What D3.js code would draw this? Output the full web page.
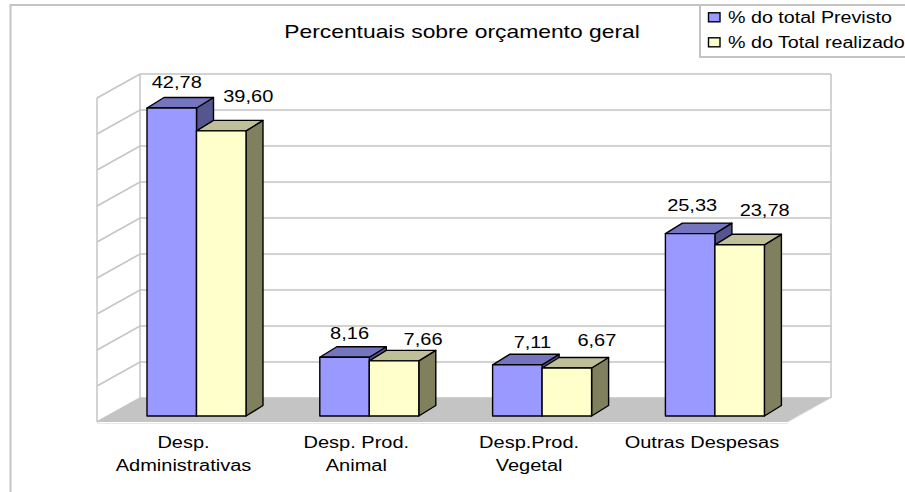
<!DOCTYPE html>
<html><head><meta charset="utf-8">
<script src="https://cdn.jsdelivr.net/npm/d3@7"></script>
<style>html,body{margin:0;background:#fff;overflow:hidden}svg{display:block}text{font-family:"Liberation Sans",Arial,sans-serif;fill:#000}</style>
</head><body><svg id="c" width="905" height="492"></svg>
<script>
const categories = [["Desp.","Administrativas"],["Desp. Prod.","Animal"],["Desp.Prod.","Vegetal"],["Outras Despesas"]];
const seriesNames = ["% do total Previsto","% do Total realizado"];
const previsto = [42.78,8.16,7.11,25.33];
const realizado = [39.60,7.66,6.67,23.78];
const gridTicks = d3.range(0,50,5);
const colors = [{f:"#9999ff",t:"#7474bf",s:"#55558f"},{f:"#ffffcc",t:"#bfbf99",s:"#80805f"}];

const svg = d3.select("#c");
const W = {x0:140,x1:831,yBottom:398,dx:43,dy:24};
const y = d3.scaleLinear().domain([0,45]).range([W.yBottom,74]);
const x = d3.scaleBand().domain(d3.range(4)).range([147,147+4*172.8]);
const grey="#c4c4c4";

// stretched text helper (the original's glyphs are horizontally wide)
function stext(parent,str,px,py,size,sx,anchor){
  return parent.append("text").attr("transform",`translate(${px},${py}) scale(${sx},1)`)
    .attr("font-size",size).attr("text-anchor",anchor||"middle").text(str);
}

// frame
svg.append("path").attr("d","M10.5,492V5H905").attr("fill","none").attr("stroke",grey).attr("stroke-width",2);
// floor
svg.append("polygon").attr("fill",grey).attr("points",[[W.x0,W.yBottom],[W.x1,W.yBottom],[W.x1-W.dx,W.yBottom+W.dy],[W.x0-W.dx,W.yBottom+W.dy]].join(" "));
// grid
const g = svg.append("g").attr("fill","none").attr("stroke",grey).attr("stroke-width",1.5);
g.selectAll("path.g").data(gridTicks).join("path").attr("class","g")
 .attr("d",t=>`M${W.x0-W.dx},${y(t)+W.dy}L${W.x0},${y(t)}H${W.x1}`);
g.append("path").attr("d",`M${W.x0-W.dx},${W.yBottom+W.dy}V${y(45)+W.dy}`);
g.append("path").attr("d",`M${W.x0},${y(0)}V${y(45)}`);
g.append("path").attr("d",`M${W.x1},${y(0)}V${y(45)}`);
svg.append("path").attr("d",`M${W.x0-W.dx},${W.yBottom+W.dy+1.5}H${W.x1-W.dx}`).attr("stroke","#e8e8e8").attr("fill","none");
svg.append("path").attr("d",`M${W.x1-W.dx},${W.yBottom+W.dy}L${W.x1},${W.yBottom}`).attr("stroke","#e8e8e8").attr("fill","none");

// bars
const barW=49.5, bx=17, by=10.5, floorDrop=18;
const bar = svg.append("g").attr("stroke","#000").attr("stroke-width",1.4).attr("stroke-linejoin","round");
const labels = svg.append("g");
const labelDx=[[5,27],[5,29],[15,30],[2,25]];
const labelDy=[[-20,-29],[-18,-16],[-17,-22],[-22.6,-29]];
categories.forEach((c,i)=>{
  [previsto,realizado].forEach((arr,k)=>{
    const v=arr[i], col=colors[k];
    const L=x(i)+k*barW, R=L+barW, B=y(0)+floorDrop, T=B-(y(0)-y(v));
    bar.append("polygon").attr("fill",col.s).attr("points",[[R,T],[R+bx,T-by],[R+bx,B-by],[R,B]].join(" "));
    bar.append("polygon").attr("fill",col.t).attr("points",[[L,T],[L+bx,T-by],[R+bx,T-by],[R,T]].join(" "));
    bar.append("rect").attr("fill",col.f).attr("x",L).attr("y",T).attr("width",barW).attr("height",B-T);
    stext(labels,d3.format(".2f")(v).replace(".",","),L+barW/2+labelDx[i][k],T+labelDy[i][k],16,1.25);
  });
});
// category labels
const cat = svg.append("g");
categories.forEach((c,i)=>{
  const cx=x(i)+barW-13;
  c.forEach((s,j)=>stext(cat,s,cx,448+j*22.5,16,1.25));
});
// title
stext(svg,"Percentuais sobre orçamento geral",462,38,18,1.27);
// legend
const lg=svg.append("g");
lg.append("rect").attr("x",700).attr("y",5).attr("width",215).attr("height",52).attr("fill","#fff").attr("stroke",grey).attr("stroke-width",2);
seriesNames.forEach((s,i)=>{
  const ly=23.3+i*25;
  lg.append("rect").attr("x",708.5).attr("y",ly-10.5).attr("width",11.5).attr("height",9).attr("fill",colors[i].f).attr("stroke","#000").attr("stroke-width",1.4);
  stext(lg,s,728,ly,16,1.23,"start");
});
</script></body></html>
